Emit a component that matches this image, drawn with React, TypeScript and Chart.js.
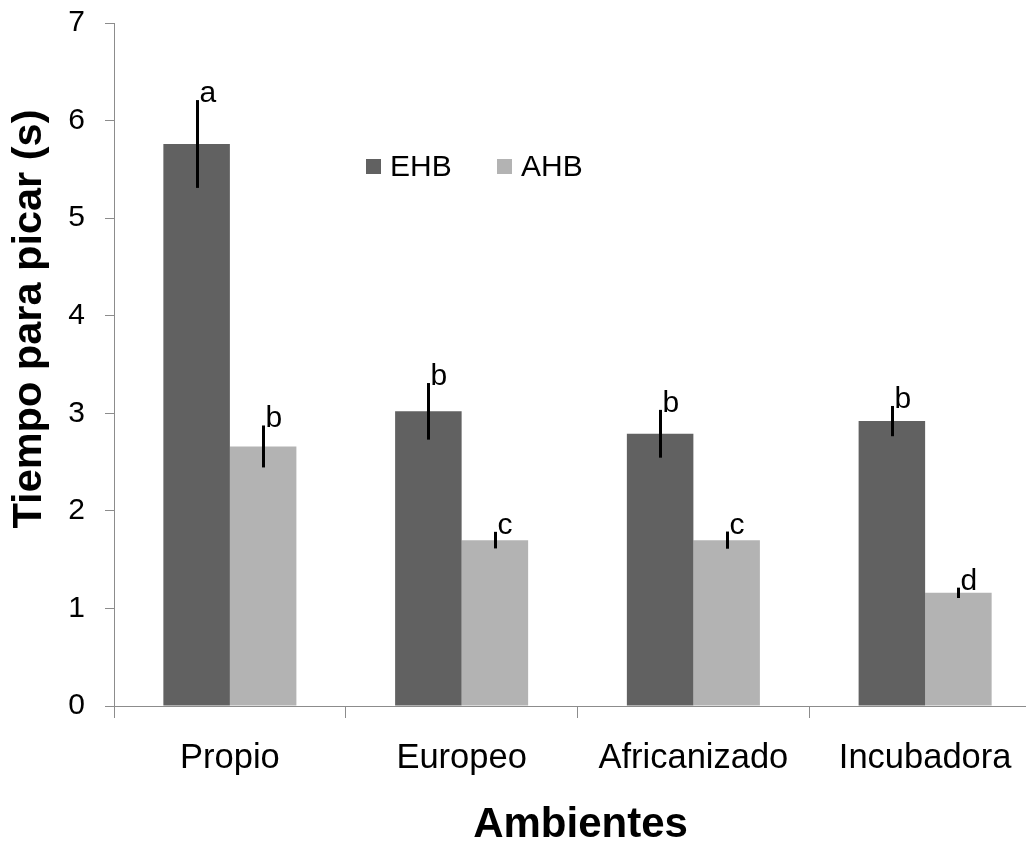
import React, { useEffect, useRef } from "react";
import { Chart, registerables } from "chart.js";

Chart.register(...registerables);

const categories = ["Propio", "Europeo", "Africanizado", "Incubadora"];
const seriesNames = ["EHB", "AHB"];
const ehbValues = [5.76, 3.02, 2.79, 2.92];
const ahbValues = [2.66, 1.7, 1.7, 1.16];
const ehbErrors = [0.45, 0.29, 0.245, 0.155];
const ahbErrors = [0.215, 0.085, 0.088, 0.053];
const ehbLetters = ["a", "b", "b", "b"];
const ahbLetters = ["b", "c", "c", "d"];
const yMin = 0;
const yMax = 7;
const yStep = 1;
const yTitle = "Tiempo para picar (s)";
const xTitle = "Ambientes";

const colors = ["#616161", "#b3b3b3"];
const FONT = "'Liberation Sans', Arial, sans-serif";

const overlayPlugin = {
  id: "overlay",
  afterDatasetsDraw(chart: any) {
    const ctx = chart.ctx as CanvasRenderingContext2D;
    const yScale = chart.scales.y;
    const errs = [ehbErrors, ahbErrors];
    const letters = [ehbLetters, ahbLetters];
    ctx.save();
    chart.data.datasets.forEach((ds: any, di: number) => {
      const meta = chart.getDatasetMeta(di);
      meta.data.forEach((bar: any, i: number) => {
        const v = ds.data[i] as number;
        const e = errs[di][i];
        const x = Math.round(bar.x) + 0.5;
        const yt = yScale.getPixelForValue(v + e);
        const yb = yScale.getPixelForValue(v - e);
        ctx.strokeStyle = "#000";
        ctx.lineWidth = 3;
        ctx.beginPath();
        ctx.moveTo(x, yt);
        ctx.lineTo(x, yb);
        ctx.stroke();
        ctx.fillStyle = "#000";
        ctx.font = `30px ${FONT}`;
        ctx.textAlign = "left";
        ctx.textBaseline = "alphabetic";
        ctx.fillText(letters[di][i], x + 2, yt + 2);
      });
    });
    ctx.restore();
  },
  afterDraw(chart: any) {
    const ctx = chart.ctx as CanvasRenderingContext2D;
    const area = chart.chartArea;
    ctx.save();
    // legend
    const lx = area.left + 252;
    const ly = area.top + 136;
    const offsets = [0, 131];
    seriesNames.forEach((name, i) => {
      ctx.fillStyle = colors[i];
      ctx.fillRect(lx + offsets[i], ly, 15, 15);
      ctx.fillStyle = "#000";
      ctx.font = `30px ${FONT}`;
      ctx.textAlign = "left";
      ctx.textBaseline = "middle";
      ctx.fillText(name, lx + offsets[i] + 24, ly + 9);
    });
    // y title
    ctx.fillStyle = "#000";
    ctx.font = `bold 41.5px ${FONT}`;
    ctx.textAlign = "center";
    ctx.textBaseline = "middle";
    ctx.save();
    ctx.translate(30, 319);
    ctx.rotate(-Math.PI / 2);
    ctx.fillText(yTitle, 0, 0);
    ctx.restore();
    // x title
    ctx.font = `bold 42px ${FONT}`;
    ctx.textBaseline = "alphabetic";
    ctx.fillText(xTitle, (area.left + area.right) / 2 + 3, 837);
    ctx.restore();
  },
};

export default function App() {
  const ref = useRef<HTMLCanvasElement | null>(null);
  useEffect(() => {
    if (!ref.current) return;
    const chart = new Chart(ref.current, {
      type: "bar",
      data: {
        labels: categories,
        datasets: [
          {
            label: seriesNames[0],
            data: ehbValues,
            backgroundColor: colors[0],
            borderWidth: 0,
            categoryPercentage: 0.574,
            barPercentage: 1,
          },
          {
            label: seriesNames[1],
            data: ahbValues,
            backgroundColor: colors[1],
            borderWidth: 0,
            categoryPercentage: 0.574,
            barPercentage: 1,
          },
        ],
      },
      options: {
        responsive: false,
        animation: false,
        layout: { padding: { left: 0, right: 19, top: 23, bottom: 0 } },
        plugins: {
          legend: { display: false },
          tooltip: { enabled: false },
          title: { display: false },
        },
        scales: {
          x: {
            grid: {
              offset: true,
              drawOnChartArea: false,
              drawTicks: true,
              tickLength: 12,
              color: "#8c8c8c",
            },
            border: { color: "#8c8c8c", width: 1 },
            ticks: {
              color: "#000",
              font: { family: FONT, size: 34.5 },
              padding: 20,
              maxRotation: 0,
              autoSkip: false,
            },
            afterFit: (s: any) => {
              s.height = 136;
              s.paddingLeft = 0;
              s.paddingRight = 0;
              s.paddingTop = 0;
              s.paddingBottom = 0;
            },
          },
          y: {
            min: yMin,
            max: yMax,
            grid: {
              drawOnChartArea: false,
              drawTicks: true,
              tickLength: 9,
              color: "#8c8c8c",
            },
            border: { color: "#8c8c8c", width: 1 },
            ticks: {
              stepSize: yStep,
              color: "#000",
              font: { family: FONT, size: 30 },
              padding: 20,
            },
            afterFit: (s: any) => {
              s.width = 114;
              s.paddingTop = 0;
              s.paddingBottom = 0;
              s.paddingLeft = 0;
              s.paddingRight = 0;
            },
          },
        },
      },
      plugins: [overlayPlugin],
    });
    return () => chart.destroy();
  }, []);
  return (
    <div
      style={{
        position: "fixed",
        left: 0,
        top: 0,
        width: 1026,
        height: 842,
        overflow: "hidden",
        background: "#fff",
      }}
    >
      <canvas ref={ref} width={1060} height={842} style={{ display: "block" }} />
    </div>
  );
}
